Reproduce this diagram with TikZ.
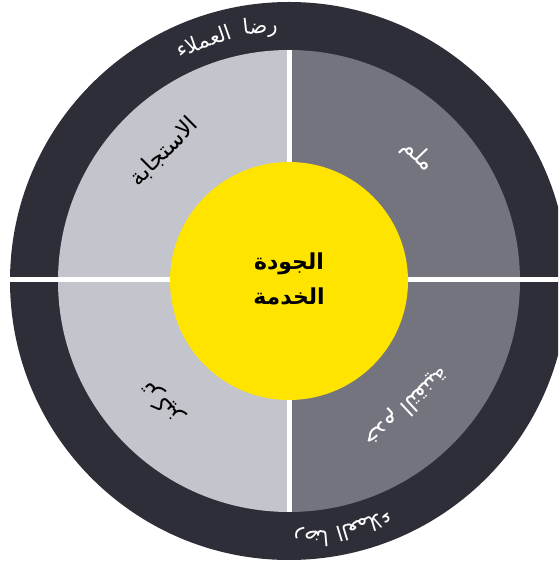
\documentclass[tikz,border=0pt]{standalone}
\usepackage{fontspec}
\usetikzlibrary{calc}
\TeXXeTstate=1
\newfontfamily\arabicfont[Script=Arabic]{DejaVu Sans}
\definecolor{ringdark}{HTML}{2E2E38}
\definecolor{quadlight}{HTML}{C3C4CC}
\definecolor{quaddark}{HTML}{74747F}
\definecolor{coreyellow}{HTML}{FFE400}
\tikzset{
  ringtext/.style={text=white,font=\arabicfont\fontsize{21}{24}\selectfont,inner sep=0pt},
  quadtext/.style={font=\arabicfont\fontsize{23}{26}\selectfont,inner sep=0pt},
  coretext/.style={font=\arabicfont\bfseries\fontsize{22}{35}\selectfont,align=center,inner sep=0pt},
  divider/.style={white,line width=5pt}
}
\begin{document}
\begin{tikzpicture}[x=1pt,y=1pt]
\useasboundingbox (0,0) rectangle (558,565);
\clip (0,0) rectangle (558,565);
\coordinate (C) at (289,284);
% outer ring
\fill[ringdark] (C) circle (279);
% quadrants
\fill[quadlight] (C) -- ++(180:231) arc (180:90:231) -- cycle;
\fill[quaddark] (C) -- ++(90:231) arc (90:0:231) -- cycle;
\fill[quadlight] (C) -- ++(180:231) arc (180:270:231) -- cycle;
\fill[quaddark] (C) -- ++(270:231) arc (270:360:231) -- cycle;
% dividers
\coordinate (vtop) at ($(C)+(0,231)$);
\coordinate (vbot) at ($(C)+(0,-231)$);
\draw[divider] (vtop) -- (vbot);
\begin{scope}
\clip (C) circle (279);
\coordinate (hl) at ($(C)+(-290,1)$);
\coordinate (hr) at ($(C)+(290,1)$);
\draw[divider] (hl) -- (hr);
\end{scope}
% core
\fill[coreyellow] (C) circle (119);
\node[coretext] (core) at ($(C)+(0,2)$) {\beginR الجودة\endR\\\beginR الخدمة\endR};
% ring texts top
\node[ringtext,rotate=6.5] (topA) at ($(C)+(96.5:255)$) {\beginR رضا\endR};
\node[ringtext,rotate=19.5] (topB) at ($(C)+(109.5:255)$) {\beginR العملاء\endR};
% ring texts bottom (upside down, following the circle)
\node[ringtext,rotate=-175] (botA) at ($(C)+(-85:257)$) {\beginR رضا\endR};
\node[ringtext,rotate=-163] (botB) at ($(C)+(-73:257)$) {\beginR العملاء\endR};
% quadrant labels
\node[quadtext,rotate=45] (qtl) at ($(C)+(134:180)$) {\beginR الاستجابة\endR};
\node[quadtext,text=white,rotate=-46] (qtr) at ($(C)+(44:180)$) {\beginR ملم\endR};
\node[quadtext,rotate=134] (qbl) at ($(C)+(224:176)$) {\beginR تركيز\endR};
\node[quadtext,text=white,rotate=-137] (qbr) at ($(C)+(-47:172)$) {\beginR خدم التقنية\endR};
\end{tikzpicture}
\end{document}
